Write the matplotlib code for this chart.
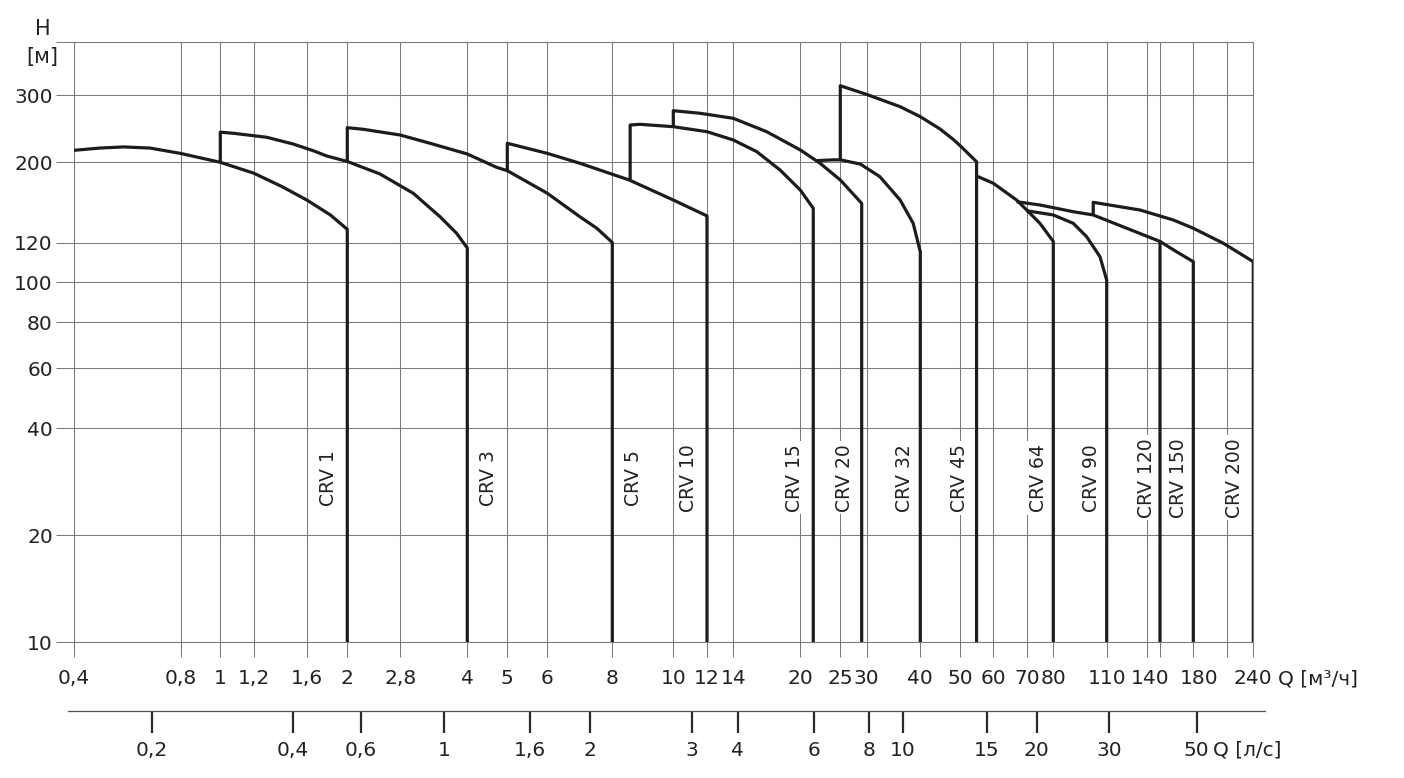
import numpy as np
import matplotlib
matplotlib.use("Agg")
import matplotlib.pyplot as plt
import matplotlib.transforms as mtrans
from matplotlib.lines import Line2D

# ---------------- data (Q in m3/h, H in m) ----------------
crv1_q = [0.4, 0.474, 0.552, 0.656, 0.8, 1.0, 1.2, 1.4, 1.6, 1.82, 2.0]
crv1_h = [215, 218, 219.5, 218, 211, 200, 186.5, 171, 157, 143, 130.5]

crv3_q = [1.0, 1.073, 1.285, 1.483, 1.654, 1.783, 2.0, 2.46, 3.0, 3.46, 3.78, 4.0]
crv3_h = [240, 238.4, 232.7, 223.4, 214.5, 207.8, 201, 185.7, 164.2, 141.4, 127.2, 117]

crv5_q = [2.0, 2.214, 2.8, 3.28, 4.0, 4.71, 5.0, 6.0, 6.93, 7.47, 8.0]
crv5_h = [246.6, 244.2, 235.9, 224.4, 210.3, 193.7, 189.6, 164.2, 141.4, 131.4, 120]

crv10_q = [5.0, 6.0, 6.93, 8.51, 10.0, 12.0]
crv10_h = [224.4, 211.1, 198.8, 178.7, 157.3, 142.1]

crv15_q = [8.54, 8.85, 10.0, 12.0, 14.0, 15.86, 17.95, 20.0, 21.5]
crv15_h = [250.6, 251.7, 248.1, 240.7, 228.9, 213.3, 190.5, 167.6, 149.2]

crv20_q = [10.0, 11.55, 14.0, 16.72, 20.0, 22.33, 25.0, 28.98]
crv20_h = [273.3, 269.1, 261, 240.7, 215.5, 198.8, 178.7, 154]

crv32_q = [21.9, 24.05, 25.0, 28.7, 32.2, 35.9, 38.5, 40.0]
crv32_h = [202, 203, 203, 197.8, 182.5, 157.3, 135.6, 115]

crv45_q = [25.0, 30.0, 35.9, 40.0, 44.65, 48.1, 49.9, 54.7]
crv45_h = [316, 301.4, 280, 263.6, 244.7, 229.6, 221.4, 200.7]

crv64_q = [54.7, 60.0, 66.8, 70.0, 74.8, 80.0]
crv64_h = [183.3, 175, 157.3, 147.6, 135.6, 120.8]

crv90_q = [70.0, 80.0, 90.1, 97.6, 105.7, 110.0]
crv90_h = [146.9, 143, 135.6, 124.5, 112.4, 101]

crv120_q = [66.8, 74.8, 90.1, 101.5, 119.6, 140.0]
crv120_h = [155.6, 152.4, 146, 143, 131.4, 120.8]

crv150_q = [140.0, 158.7, 180.0]
crv150_h = [120.8, 115, 109.9]

crv200_q = [101.5, 126.4, 154.8, 180.0, 206.7, 240.0]
crv200_h = [155, 147.6, 138.5, 131.4, 119.6, 109.9]

pump_names = ["CRV 1", "CRV 3", "CRV 5", "CRV 10", "CRV 15", "CRV 20", "CRV 32",
              "CRV 45", "CRV 64", "CRV 90", "CRV 120", "CRV 150", "CRV 200"]
pump_q = [crv1_q, crv3_q, crv5_q, crv10_q, crv15_q, crv20_q, crv32_q,
          crv45_q, crv64_q, crv90_q, crv120_q, crv150_q, crv200_q]
pump_h = [crv1_h, crv3_h, crv5_h, crv10_h, crv15_h, crv20_h, crv32_h,
          crv45_h, crv64_h, crv90_h, crv120_h, crv150_h, crv200_h]
# head where the left edge of each range rises from (None = no rise line)
rise_base_h = [None, 200, 201, 190, 178.5, 248, None, 203, None, None, None, None, 143]

# label anchor flows (m3/h) and head for the rotated pump names
label_q = [1.80, 4.50, 8.64, 10.85, 19.44, 25.8, 36.8, 49.9, 74.2, 100.6, 130, 160.7, 218.9]
label_h = 29

# axis ticks
x_ticks = [0.4, 0.8, 1, 1.2, 1.6, 2, 2.8, 4, 5, 6, 8, 10, 12, 14, 20, 25, 30, 40,
           50, 60, 70, 80, 110, 130, 140, 180, 210, 240]
x_labels = ["0,4", "0,8", "1", "1,2", "1,6", "2", "2,8", "4", "5", "6", "8", "10", "12",
            "14", "20", "25", "30", "40", "50", "60", "70", "80", "110", "", "140",
            "180", "", "240"]
y_ticks = [10, 20, 40, 60, 80, 100, 120, 200, 300, 400]
y_labels = ["10", "20", "40", "60", "80", "100", "120", "200", "300", ""]
ls_ticks = [0.2, 0.4, 0.6, 1, 1.6, 2, 3, 4, 6, 8, 10, 15, 20, 30, 50]
ls_labels = ["0,2", "0,4", "0,6", "1", "1,6", "2", "3", "4", "6", "8", "10", "15",
             "20", "30", "50"]

# ---------------- non-uniform chart scales (knots of the printed grid) ----------------
X_SCALE_Q = x_ticks
X_SCALE_POS = [73.7, 180.7, 220.3, 254, 307.3, 347.3, 400.3, 467.3, 507.3, 547.3,
               612.3, 673.3, 707, 733.3, 800.3, 840.3, 866.7, 920.3, 960.3, 993.3,
               1026.7, 1053.3, 1106.7, 1146.7, 1160, 1193.3, 1226.7, 1253.3]
Y_SCALE_H = y_ticks
Y_SCALE_POS = [-642, -535, -428.3, -368.3, -322.3, -282.3, -242.5, -162.3, -95.3, -42.3]
LS_SCALE_Q = ls_ticks
LS_SCALE_POS = [152, 292.7, 361, 444, 530, 590, 692.3, 737.7, 814.3, 869, 902.7,
                986.7, 1036.7, 1109.5, 1196.7]
# small sideways nudges of crowded tick labels (pixels), as printed
X_LABEL_NUDGE = {"140": -10, "180": 6}


def _pw(x, xp, fp):
    x = np.asarray(x, dtype=float)
    xp = np.asarray(xp, dtype=float)
    fp = np.asarray(fp, dtype=float)
    y = np.interp(x, xp, fp)
    lo_s = (fp[1] - fp[0]) / (xp[1] - xp[0])
    hi_s = (fp[-1] - fp[-2]) / (xp[-1] - xp[-2])
    y = np.where(x < xp[0], fp[0] + (x - xp[0]) * lo_s, y)
    y = np.where(x > xp[-1], fp[-1] + (x - xp[-1]) * hi_s, y)
    return y


def make_scale(knots, pos):
    lk = np.log10(np.asarray(knots, dtype=float))
    p = np.asarray(pos, dtype=float)

    def fwd(v):
        v = np.clip(np.asarray(v, dtype=float), 1e-9, None)
        return _pw(np.log10(v), lk, p)

    def inv(t):
        return 10 ** _pw(t, p, lk)
    return fwd, inv


fx, fx_inv = make_scale(X_SCALE_Q, X_SCALE_POS)
fy, fy_inv = make_scale(Y_SCALE_H, Y_SCALE_POS)
fls, fls_inv = make_scale(LS_SCALE_Q, LS_SCALE_POS)

# ---------------- figure ----------------
W, H = 1404, 778
fig = plt.figure(figsize=(W / 100, H / 100), dpi=100)
ax_left, ax_right, ax_top, ax_bot = 73.7, 1253.3, 42.3, 642
ax = fig.add_axes([ax_left / W, 1 - ax_bot / H, (ax_right - ax_left) / W, (ax_bot - ax_top) / H])

GRID = "#7a7a7a"
INK = "#1c1c1c"
TXT = "#222222"

ax.set_xscale("function", functions=(fx, fx_inv))
ax.set_yscale("function", functions=(fy, fy_inv))
ax.set_xlim(x_ticks[0], x_ticks[-1])
ax.set_ylim(y_ticks[0], y_ticks[-1])
ax.set_xticks(x_ticks, x_labels)
ax.set_yticks(y_ticks, y_labels)
ax.minorticks_off()
ax.set_axisbelow(True)
ax.grid(True, which="major", color=GRID, lw=0.75)
for s in ax.spines.values():
    s.set_color(GRID)
    s.set_linewidth(0.75)
ax.tick_params(axis="x", direction="out", length=10.8, width=0.75, color=GRID,
               pad=9, labelsize=14.5, labelcolor=TXT)
ax.tick_params(axis="y", direction="out", length=13, width=0.75, color=GRID,
               pad=2, labelsize=14.5, labelcolor=TXT)

for tick, lab in zip(ax.xaxis.get_major_ticks(), x_labels):
    if lab in X_LABEL_NUDGE:
        off = mtrans.ScaledTranslation(X_LABEL_NUDGE[lab] / 100, 0, fig.dpi_scale_trans)
        tick.label1.set_transform(tick.label1.get_transform() + off)

h_min = y_ticks[0]
for name, q, h, base in zip(pump_names, pump_q, pump_h, rise_base_h):
    qq = list(q) + [q[-1]]
    hh = list(h) + [h_min]
    if base is not None:
        qq = [q[0]] + qq
        hh = [base] + hh
    ax.plot(qq, hh, color=INK, lw=2.3, solid_joinstyle="round", solid_capstyle="butt",
            zorder=4)

for name, lq in zip(pump_names, label_q):
    ax.text(lq, label_h, name, rotation=90, ha="center", va="center", fontsize=13.5,
            color=TXT, zorder=3,
            bbox=dict(facecolor="white", edgecolor="none", pad=2))

ax.annotate("Q [м³/ч]", xy=(x_ticks[-1], y_ticks[0]), xycoords="data",
            xytext=(17.8, -26.6), textcoords="offset points", ha="left", va="center",
            fontsize=14.5, color=TXT, annotation_clip=False)

fig.text(42.7 / W, 1 - 29 / H, "H", ha="center", va="center", fontsize=15, color=TXT)
fig.text(42.3 / W, 1 - 56.7 / H, "[м]", ha="center", va="center", fontsize=15, color=TXT)

# ---------------- secondary flow axis in l/s ----------------
line_y = 710.7
ax2 = fig.add_axes([ax_left / W, 1 - line_y / H, (ax_right - ax_left) / W, 0.001])
ax2.set_xscale("function", functions=(fls, fls_inv))
ax2.set_xlim(float(fls_inv(fx(x_ticks[0]))), float(fls_inv(fx(x_ticks[-1]))))
ax2.set_xticks(ls_ticks, ls_labels)
ax2.minorticks_off()
ax2.set_yticks([])
ax2.patch.set_visible(False)
for s in ax2.spines.values():
    s.set_visible(False)
ax2.tick_params(axis="x", direction="out", length=15.8, width=1.6, color="#2a2a2a",
                pad=6, labelsize=14.5, labelcolor=TXT)
ax2.add_line(Line2D([-0.0046, 1.0099], [0, 0], transform=ax2.transAxes, color="#555555",
                    lw=0.9, clip_on=False))
ax2.annotate("Q [л/с]", xy=(ls_ticks[-1], 0), xycoords=("data", "axes fraction"),
             xytext=(11.7, -28.3), textcoords="offset points", ha="left", va="center",
             fontsize=14.5, color=TXT, annotation_clip=False)

fig.savefig("out.png", dpi=100, facecolor="white")
